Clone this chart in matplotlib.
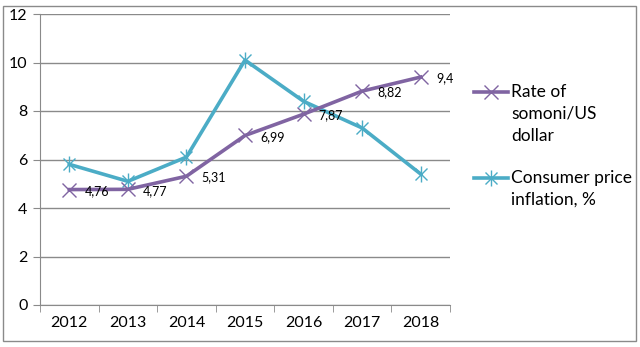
import matplotlib
matplotlib.use("Agg")
import matplotlib.pyplot as plt
from matplotlib.lines import Line2D
from matplotlib.patches import Rectangle

years = ["2012", "2013", "2014", "2015", "2016", "2017", "2018"]
rate = [4.76, 4.77, 5.31, 6.99, 7.87, 8.82, 9.4]
inflation = [5.8, 5.1, 6.1, 10.1, 8.4, 7.3, 5.4]
rate_label = "Rate of\nsomoni/US\ndollar"
infl_label = "Consumer price\ninflation, %"

purple = "#8064A2"
teal = "#4BACC6"
plt.rcParams['font.family'] = ['Lato', 'DejaVu Sans']

W, H = 640, 347
fig = plt.figure(figsize=(6.4, 3.47), dpi=100)
fig.patches.append(Rectangle((3/W, 6/H), 633/W, 335/H, transform=fig.transFigure,
                             fill=False, edgecolor="#8a8a8a", linewidth=1))
ax = fig.add_axes([40/W, 1-305/H, 410/W, 291/H])

x = list(range(len(years)))
ax.plot(x, inflation, color=teal, lw=2.6, marker='x', ms=9, mew=1, zorder=3)
ax.plot(x, inflation, color=teal, lw=0, marker='|', ms=11, mew=1, zorder=3)
ax.plot(x, rate, color=purple, lw=2.6, marker='x', ms=10, mew=1, zorder=4)

for xi, v in zip(x, rate):
    ax.annotate(f"{v:g}".replace('.', ','), (xi, v), xytext=(11, -1), textcoords='offset points',
                fontsize=9, va='center', ha='left', color='black', zorder=5)

ax.set_xlim(-0.5, len(years) - 0.5)
ax.set_ylim(0, 12)
ax.set_yticks(range(0, 13, 2))
ax.set_xticks(x)
ax.set_xticklabels(years, fontsize=11.5)
ax.set_xticks([i - 0.5 for i in range(len(years) + 1)], minor=True)
ax.tick_params(axis='x', which='major', length=0, pad=8)
ax.tick_params(axis='x', which='minor', length=5, color='#8a8a8a', direction='out')
ax.tick_params(axis='y', length=5, color='#8a8a8a', labelsize=11.5, pad=4)
ax.grid(axis='y', color='#8a8a8a', lw=1)
ax.set_axisbelow(True)
for s in ['top', 'right']:
    ax.spines[s].set_visible(False)
for s in ['left', 'bottom']:
    ax.spines[s].set_color('#8a8a8a')

# legend drawn manually (handle aligned with first text line)
for (y_px, col, lab, ms, extra) in [(92, purple, rate_label, 10, False),
                                     (178, teal, infl_label, 9, True)]:
    yf = 1 - y_px / H
    fig.add_artist(Line2D([474/W, 508/W], [yf, yf], color=col, lw=2.6, transform=fig.transFigure))
    fig.add_artist(Line2D([491/W], [yf], color=col, lw=0, marker='x', ms=ms, mew=1,
                          transform=fig.transFigure))
    if extra:
        fig.add_artist(Line2D([491/W], [yf], color=col, lw=0, marker='|', ms=11, mew=1,
                              transform=fig.transFigure))
    fig.text(511/W, 1 - (y_px - 8) / H, lab, fontsize=12.5, ha='left', va='top',
             linespacing=1.45, color='black')

fig.savefig("out.png", dpi=100)
